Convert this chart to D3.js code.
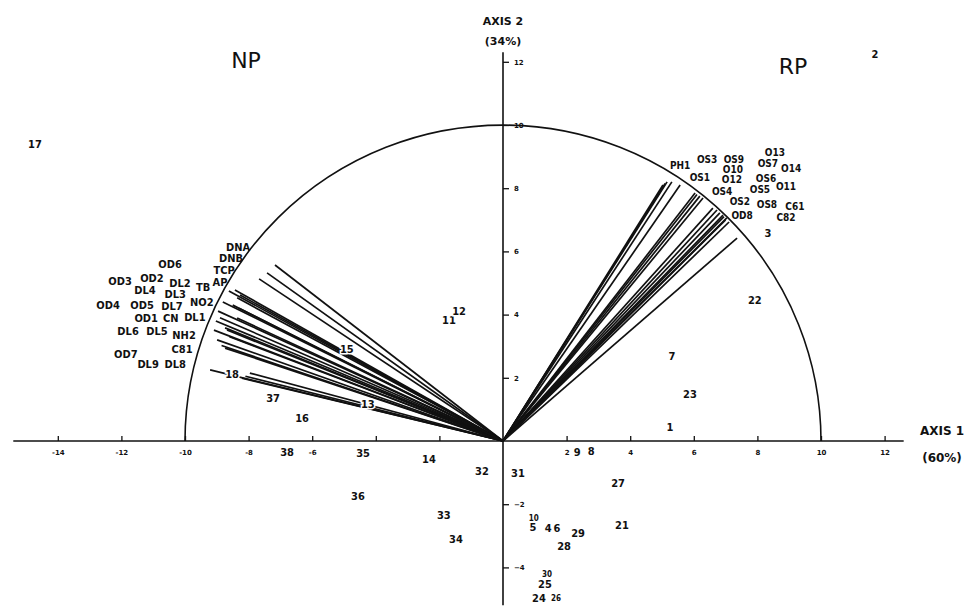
<!DOCTYPE html>
<html>
<head>
<meta charset="utf-8">
<script src="https://cdn.jsdelivr.net/npm/d3@7"></script>
<style>
  body { margin: 0; background: #fff; }
  svg { display: block; }
  .lbl { font-family: "DejaVu Sans Condensed", "DejaVu Sans", sans-serif; font-weight: bold; font-size: 11px; fill: #111; }
  .tick text { font-family: "DejaVu Sans", sans-serif; font-weight: bold; font-size: 7px; fill: #111; }
  .tick line { stroke: #111; stroke-width: 1.3; }
</style>
</head>
<body>
<svg width="968" height="610"></svg>
<script>
// tick values on the two axes
var xTickVals = [-14, -12, -10, -8, -6, -4, -2, 2, 4, 6, 8, 10, 12];
var xTickShown = [-14, -12, -10, -8, -6, 2, 4, 6, 8, 10, 12];
var yTickVals = [12, 10, 8, 6, 4, 2, -2, -4];

// variable vectors (end points, axis units)
var npVectors = [[-7.17, 5.57], [-7.42, 5.32], [-7.67, 5.13], [-8.62, 4.75], [-8.43, 4.78],
    [-8.27, 4.62], [-8.36, 4.53], [-8.81, 4.40], [-8.50, 4.30], [-8.96, 4.11], [-8.36, 3.89],
    [-9.03, 3.80], [-8.90, 3.90], [-8.74, 3.58], [-9.09, 3.51], [-8.68, 3.51], [-8.60, 3.30],
    [-8.99, 3.20], [-8.85, 3.02], [-8.74, 2.94], [-9.21, 2.25], [-8.21, 1.99], [-8.10, 2.05],
    [-7.96, 2.15], [-8.30, 4.20]];
var rpVectors = [[5.03, 8.10], [5.10, 8.15], [5.16, 8.20], [5.31, 8.20], [5.57, 8.10],
    [6.04, 7.85], [6.10, 7.80], [6.19, 7.75], [6.29, 7.69], [6.60, 7.37], [6.73, 7.31],
    [6.82, 7.22], [6.92, 7.15], [6.95, 7.10], [7.04, 7.06], [7.11, 6.93], [7.00, 7.00],
    [7.36, 6.42]];

// variable names
var npNames = ["DNA", "DNB", "TCP", "AP", "TB", "DL2", "DL3", "OD6", "OD3", "OD2", "DL4", "OD4", "OD5",
    "DL7", "NO2", "OD1", "CN", "DL1", "DL6", "DL5", "NH2", "C81", "OD7", "DL9", "DL8"];
var npNamePos = [[-8.33, 6.11], [-8.55, 5.76], [-8.77, 5.38], [-8.90, 5.03], [-9.43, 4.87],
    [-10.16, 5.00], [-10.31, 4.65], [-10.47, 5.60], [-12.04, 5.06], [-11.04, 5.13], [-11.26, 4.75],
    [-12.42, 4.30], [-11.35, 4.30], [-10.41, 4.27], [-9.47, 4.37], [-11.22, 3.89], [-10.45, 3.89],
    [-9.69, 3.92], [-11.79, 3.48], [-10.88, 3.45], [-10.03, 3.35], [-10.09, 2.88], [-11.86, 2.75],
    [-11.16, 2.41], [-10.31, 2.41]];
var rpNames = ["PH1", "OS3", "OS9", "O10", "OS1", "O12", "OS4", "OS2", "OD8", "O13", "OS7", "O14",
    "OS6", "OS5", "O11", "OS8", "C61", "C82"];
var rpNamePos = [[5.57, 8.73], [6.42, 8.90], [7.26, 8.90], [7.23, 8.58], [6.19, 8.35], [7.20, 8.26],
    [6.89, 7.91], [7.45, 7.59], [7.52, 7.15], [8.55, 9.12], [8.33, 8.77], [9.06, 8.62], [8.27, 8.32],
    [8.08, 7.97], [8.90, 8.04], [8.30, 7.47], [9.18, 7.41], [8.90, 7.06]];

// observations
var obsIds = ["17", "2", "3", "22", "7", "23", "1", "11", "12", "15", "18", "37", "13", "16", "38",
    "35", "14", "32", "31", "9", "8", "27", "36", "33", "34", "10", "5", "4", "6", "29", "28", "21",
    "30", "25", "24", "26"];
var obsPos = [[-14.72, 9.37], [11.70, 12.22], [8.33, 6.58], [7.92, 4.46], [5.31, 2.66], [5.88, 1.46],
    [5.25, 0.44], [-1.70, 3.80], [-1.38, 4.11], [-4.91, 2.88], [-8.52, 2.09], [-7.23, 1.36],
    [-4.25, 1.14], [-6.32, 0.70], [-6.79, -0.35], [-4.40, -0.38], [-2.33, -0.60], [-0.66, -0.98],
    [0.47, -1.04], [2.33, -0.35], [2.77, -0.32], [3.62, -1.36], [-4.56, -1.77], [-1.86, -2.37],
    [-1.48, -3.13], [0.97, -2.44], [0.94, -2.75], [1.42, -2.78], [1.70, -2.78], [2.36, -2.94],
    [1.92, -3.35], [3.74, -2.66], [1.38, -4.22], [1.32, -4.55], [1.13, -4.97], [1.67, -4.97]];
var smallIds = ["10", "30", "26"];

var svg = d3.select("svg");
var xScale = d3.scaleLinear().domain([0, 10]).range([503, 821]);
var yScale = d3.scaleLinear().domain([0, 10]).range([441, 125]);

// semicircle of radius 10
var rx = xScale(10) - xScale(0), ry = yScale(0) - yScale(10);
svg.append("path")
    .attr("d", "M" + xScale(-10) + "," + yScale(0) + " A" + rx + "," + ry + " 0 0 1 " + xScale(10) + "," + yScale(0))
    .attr("fill", "none")
    .attr("stroke", "#111")
    .attr("stroke-width", 1.6);

// vectors
function drawVectors(list, cls) {
    svg.selectAll("." + cls)
        .data(list)
        .enter().append("line")
        .attr("class", cls)
        .attr("x1", xScale(0)).attr("y1", yScale(0))
        .attr("x2", function (d) { return xScale(d[0]); })
        .attr("y2", function (d) { return yScale(d[1]); })
        .attr("stroke", "#111")
        .attr("stroke-width", 1.7);
}
drawVectors(npVectors, "npv");
drawVectors(rpVectors, "rpv");

// axes
svg.append("line")
    .attr("x1", xScale(-15.4)).attr("x2", xScale(12.6))
    .attr("y1", yScale(0)).attr("y2", yScale(0))
    .attr("stroke", "#111").attr("stroke-width", 1.6);
svg.append("line")
    .attr("x1", xScale(0)).attr("x2", xScale(0))
    .attr("y1", yScale(12.3)).attr("y2", yScale(-5.2))
    .attr("stroke", "#111").attr("stroke-width", 1.6);

var xAxis = d3.axisBottom(xScale)
    .tickValues(xTickVals)
    .tickSizeInner(-5).tickSizeOuter(0).tickPadding(9)
    .tickFormat(function (d) { return xTickShown.indexOf(d) >= 0 ? d : ""; });
svg.append("g")
    .attr("transform", "translate(0," + yScale(0) + ")")
    .call(xAxis)
    .call(function (g) { g.select(".domain").remove(); });

var yAxis = d3.axisRight(yScale)
    .tickValues(yTickVals)
    .tickSizeInner(6).tickSizeOuter(0).tickPadding(5);
svg.append("g")
    .attr("transform", "translate(" + xScale(0) + ",0)")
    .call(yAxis)
    .call(function (g) { g.select(".domain").remove(); });

// variable names
function drawNames(names, pos, size) {
    svg.append("g").selectAll("text")
        .data(names)
        .enter().append("text")
        .attr("class", "lbl")
        .style("font-size", size + "px")
        .attr("x", function (d, i) { return xScale(pos[i][0]); })
        .attr("y", function (d, i) { return yScale(pos[i][1]); })
        .attr("text-anchor", "middle")
        .attr("dominant-baseline", "central")
        .text(function (d) { return d; });
}
drawNames(npNames, npNamePos, 11);
drawNames(rpNames, rpNamePos, 10);

// observation numbers, white halo hides the lines behind
svg.append("g").selectAll("text")
    .data(obsIds)
    .enter().append("text")
    .attr("class", "lbl")
    .attr("x", function (d, i) { return xScale(obsPos[i][0]); })
    .attr("y", function (d, i) { return yScale(obsPos[i][1]); })
    .attr("text-anchor", "middle")
    .attr("dominant-baseline", "central")
    .style("font-size", function (d) { return smallIds.indexOf(d) >= 0 ? "8px" : "11px"; })
    .attr("stroke", "#fff").attr("stroke-width", 3).attr("paint-order", "stroke")
    .text(function (d) { return d; });

// titles
function title(txt, x, y, size, weight) {
    svg.append("text")
        .attr("x", x).attr("y", y)
        .attr("text-anchor", "middle")
        .attr("dominant-baseline", "central")
        .style("font-family", "'DejaVu Sans', sans-serif")
        .style("font-size", size + "px")
        .style("font-weight", weight)
        .style("fill", "#111")
        .text(txt);
}
title("NP", 246, 60, 22, "normal");
title("RP", 793, 66, 22, "normal");
title("AXIS 2", 503, 21, 11, "bold");
title("(34%)", 503, 41, 11, "bold");
title("AXIS 1", 942, 431, 12, "bold");
title("(60%)", 942, 458, 12, "bold");
</script>
</body>
</html>
